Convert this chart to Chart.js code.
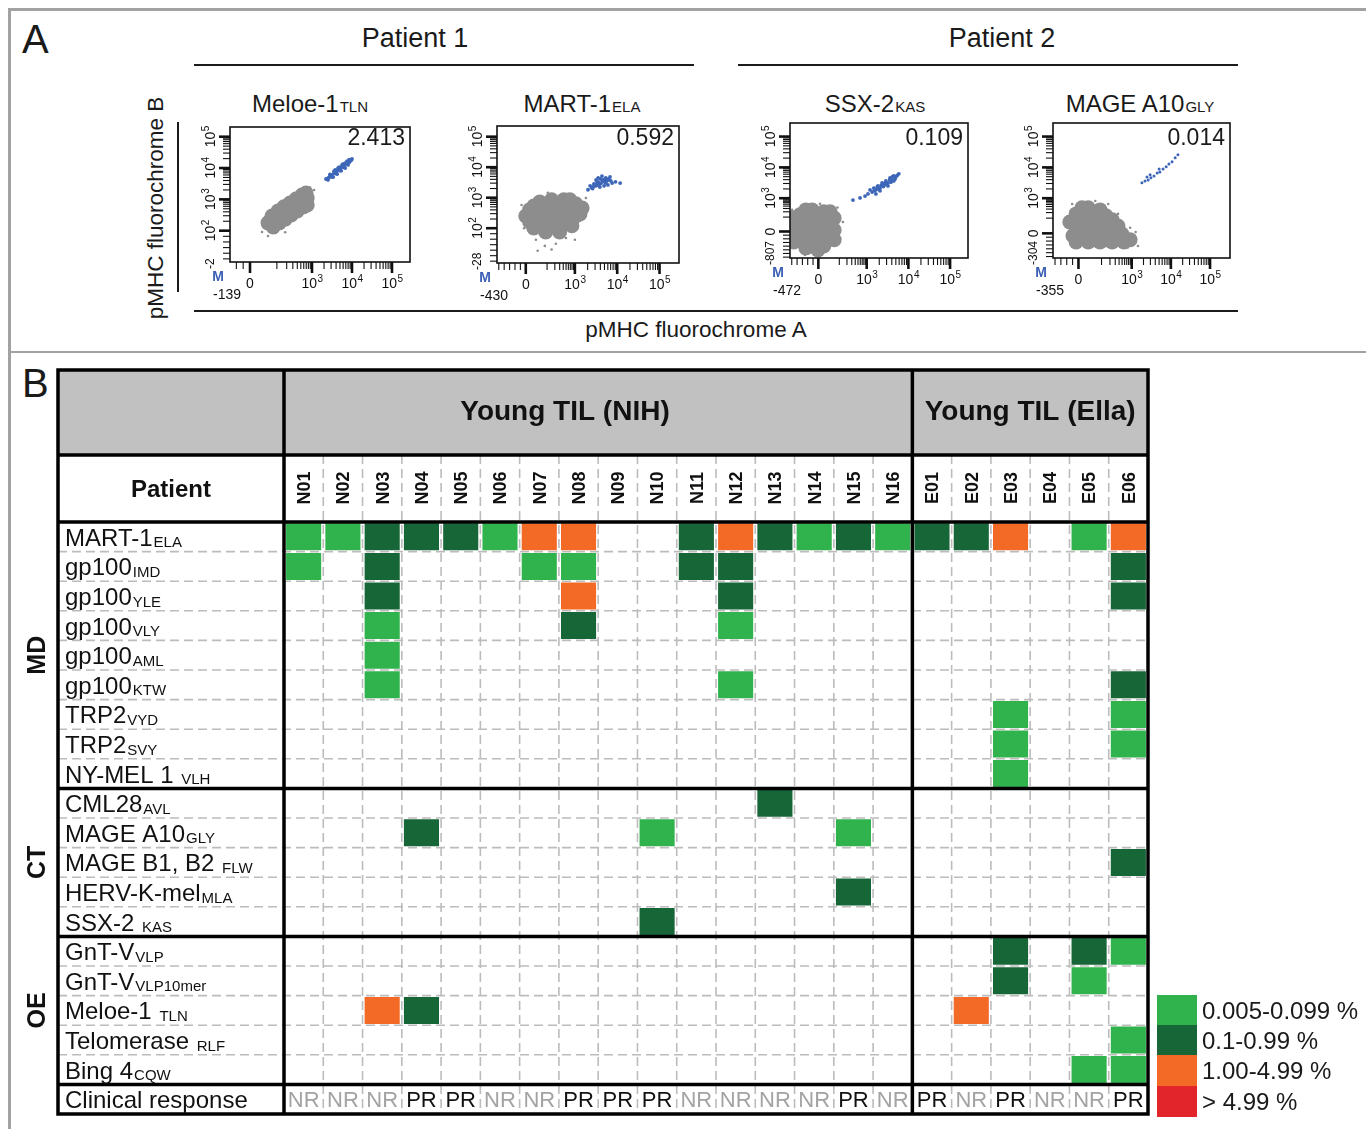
<!DOCTYPE html>
<html lang="en">
<head>
<meta charset="utf-8">
<title>Young TIL pMHC multimer screen</title>
<script src="https://cdn.jsdelivr.net/npm/chart.js@4.4.1/dist/chart.umd.min.js"></script>
<style>
  body { margin: 0; background: #fff; }
  #fig { position: relative; width: 1366px; height: 1129px; overflow: hidden; background: #fff;
         font-family: "Liberation Sans", Arial, Helvetica, sans-serif; color: #1a1a1a; }
  #fig div { position: absolute; white-space: nowrap; line-height: 1; }
  #fig canvas { position: absolute; }
  .rule { background: #1a1a1a; }
  .frame { background: #a2a2a2; }
  .letter { font-size: 40px; }
  .patient { font-size: 27px; transform: translateX(-50%); }
  .axtitle { font-size: 22.5px; }
  .ptitle { font-size: 24px; transform: translateX(-50%); }
  .ptitle span { font-size: 15px; margin-left: 1px; }
  .freq { font-size: 23px; transform: translateX(-100%); }
  .swatch { left: 1157px; width: 40px; }
  .lgtext { left: 1202px; font-size: 24px; }
</style>
</head>
<body>
<div id="fig">
  <div class="frame" style="left:8px;top:8px;width:1358px;height:3px"></div>
  <div class="frame" style="left:8px;top:8px;width:3px;height:1121px"></div>
  <div class="frame" style="left:8px;top:351px;width:1358px;height:2px"></div>
  <div class="letter" style="left:22px;top:19px">A</div>
  <div class="letter" style="left:22px;top:363px">B</div>
  <div class="patient" style="left:415px;top:25px">Patient 1</div>
  <div class="patient" style="left:1002px;top:25px">Patient 2</div>
  <div class="rule" style="left:194px;top:64px;width:500px;height:1.6px"></div>
  <div class="rule" style="left:738px;top:64px;width:500px;height:1.6px"></div>
  <div class="rule" style="left:194px;top:310px;width:1044px;height:1.6px"></div>
  <div class="rule" style="left:177px;top:122px;width:1.6px;height:170px"></div>
  <div class="axtitle" style="left:696px;top:319px;transform:translateX(-50%)">pMHC fluorochrome A</div>
  <div class="axtitle" style="left:156px;top:208px;transform:translate(-50%,-50%) rotate(-90deg)">pMHC fluorochrome B</div>
  <canvas id="heat" width="1160" height="769" style="left:0;top:360px"></canvas>
</div>
<script>
const FONT = '"Liberation Sans", Arial, Helvetica, sans-serif';

// ---------- panel A: dot plots (values in axis decades, 10^3 = 3) ----------
const plotAntigens = ["Meloe-1", "MART-1", "SSX-2", "MAGE A10"];
const plotEpitopes = ["TLN", "ELA", "KAS", "GLY"];
const plotFreqs = ["2.413", "0.592", "0.109", "0.014"];
const xTickText = ["0", "10^3", "10^4", "10^5"];
const yTickTextLog = ["10^2", "10^3", "10^4", "10^5"];
const yTickTextZero = ["0", "10^3", "10^4", "10^5"];
const xMinText = ["-139", "-430", "-472", "-355"];
const yMinText = ["-2", "-28", "-807", "-304"];

const meloeCore = [[1.90,2.25],[2.05,2.34],[2.20,2.47],[2.35,2.60],[2.50,2.72],[2.65,2.85],[2.80,2.98],[2.88,3.04],
  [2.00,2.47],[2.15,2.63],[2.30,2.76],[2.45,2.88],[2.60,3.01],[2.75,3.14],[2.85,3.20],
  [2.03,2.12],[2.18,2.25],[2.33,2.37],[2.48,2.50],[2.63,2.63],[2.78,2.76],[2.88,2.82]];
const meloeStray = [[1.75,1.96],[1.90,1.83],[2.10,1.93],[2.33,1.95],[1.83,2.41],[2.70,3.30],[3.05,3.30],[2.95,3.38],[1.80,2.20],[2.55,3.20]];
const meloeTet = [[3.35,3.65],[3.40,3.68],[3.45,3.75],[3.50,3.78],[3.55,3.84],[3.60,3.88],[3.65,3.94],[3.70,3.97],
  [3.75,4.03],[3.80,4.07],[3.85,4.13],[3.90,4.16],[3.95,4.22],[4.00,4.29],[3.53,3.71],[3.63,3.81],[3.73,3.91],
  [3.83,4.00],[3.68,4.03],[3.78,4.13],[3.88,4.22],[3.58,3.94],
  [3.43,3.70],[3.48,3.73],[3.58,3.85],[3.68,3.95],[3.78,4.05],[3.93,4.18],[3.98,4.25],[3.45,3.80],[3.55,3.90],
  [3.65,4.00],[3.75,4.10],[3.85,4.18],[3.93,4.27],[3.40,3.62],[3.50,3.72],[3.60,3.82],[3.70,3.92],[3.80,4.02],[3.90,4.10]];

const martCore = [[1.93,2.60],[1.93,2.21],[2.17,2.86],[2.17,2.47],[2.17,2.08],[2.45,2.93],[2.45,2.53],[2.45,2.14],
  [2.74,2.93],[2.74,2.53],[2.74,2.14],[3.02,2.80],[3.02,2.40],[3.17,2.66],[2.31,1.88],[2.64,1.88],[1.84,2.40],[2.93,2.08],
  [2.03,2.73],[2.03,2.34],[2.31,2.73],[2.31,2.34],[2.60,2.73],[2.60,2.34],[2.88,2.60],[2.88,2.27],[2.60,2.08],
  [2.03,2.01],[3.12,2.47],[2.31,2.08],[2.88,2.93]];
const martStray = [[2.08,1.62],[2.29,1.42],[2.55,1.49],[2.12,1.26],[2.79,1.68],[3.00,1.62],[1.74,2.76],[3.26,2.99],[2.36,3.16],[2.45,1.30],[1.80,2.00]];
const martTet = [[3.31,3.26],[3.40,3.32],[3.50,3.39],[3.59,3.45],[3.69,3.52],[3.78,3.58],[3.45,3.45],[3.55,3.52],
  [3.64,3.58],[3.73,3.65],[3.83,3.68],[3.59,3.35],[3.69,3.39],[3.50,3.58],[3.88,3.48],[4.07,3.48],[3.36,3.39],
  [3.78,3.42],[3.64,3.71],[3.55,3.65],[3.73,3.48],
  [3.45,3.38],[3.55,3.42],[3.62,3.48],[3.67,3.55],[3.75,3.55],[3.80,3.62],[3.60,3.62],[3.70,3.60],[3.42,3.30],
  [3.52,3.48],[3.85,3.55],[3.96,3.52]];

const ssxCore = [[1.40,2.46],[1.40,2.04],[1.40,1.61],[1.69,2.62],[1.69,2.23],[1.69,1.84],[1.69,1.45],[1.97,2.56],
  [1.97,2.17],[1.97,1.78],[1.97,1.45],[2.22,2.36],[2.22,1.97],[1.25,1.97],[2.22,1.65],[1.54,1.39],
  [1.54,2.23],[1.54,1.84],[1.83,2.43],[1.83,2.04],[1.83,1.65],[2.12,2.17],[2.12,1.78],[1.54,2.62],[1.25,2.36],
  [1.25,1.58],[1.83,1.32],[2.12,2.56]];
const ssxStray = [[2.43,2.23],[2.36,1.71],[1.52,1.16],[1.88,2.82],[1.21,2.62],[2.30,2.70],[1.75,1.20]];
const ssxTet = [[2.67,2.94],[2.84,3.01],[2.96,3.07],[3.03,3.14],[3.13,3.20],[3.22,3.27],[3.32,3.33],[3.42,3.43],
  [3.51,3.50],[3.61,3.59],[3.70,3.69],[3.77,3.79],[3.08,3.27],[3.17,3.33],[3.27,3.40],[3.37,3.50],[3.46,3.56],
  [3.56,3.66],[3.65,3.72],[3.32,3.24],[3.51,3.40],[3.22,3.14],[3.65,3.56],
  [3.18,3.24],[3.28,3.30],[3.40,3.38],[3.48,3.46],[3.58,3.52],[3.68,3.62],[3.73,3.74],[3.45,3.50],[3.55,3.60],
  [3.35,3.42],[3.25,3.36],[3.62,3.70],[3.42,3.46]];

const mageCore = [[1.58,2.49],[1.58,2.04],[1.58,1.58],[1.89,2.69],[1.89,2.30],[1.89,1.91],[1.89,1.58],[2.19,2.62],
  [2.19,2.23],[2.19,1.84],[2.19,1.58],[2.50,2.30],[2.50,1.91],[2.50,1.58],[2.75,1.84],[2.80,1.58],[1.50,1.78],
  [1.73,2.26],[1.73,1.81],[2.04,2.49],[2.04,2.07],[2.04,1.65],[2.34,2.43],[2.34,2.04],[2.34,1.65],[2.65,2.10],
  [2.65,1.71],[2.96,1.65],[1.73,2.69],[1.42,2.23]];
const mageStray = [[3.06,1.71],[3.16,1.45],[2.96,2.04],[2.65,2.49],[2.40,2.81],[1.48,2.81],[2.07,2.91],[2.90,1.40],[3.10,1.90]];
const mageTet = [[3.26,3.50],[3.34,3.56],[3.42,3.59],[3.49,3.66],[3.47,3.76],[3.57,3.72],[3.65,3.82],[3.72,3.85],
  [3.70,3.95],[3.80,3.95],[3.88,4.02],[3.95,4.11],[4.03,4.18],[4.11,4.31],[4.18,4.41],[3.39,3.69]];

const plotCores = [meloeCore, martCore, ssxCore, mageCore];
const plotStrays = [meloeStray, martStray, ssxStray, mageStray];
const plotTets = [meloeTet, martTet, ssxTet, mageTet];

// layout of the four dot plots
const plotBoxes = [[230,127,410,262],[497,126,679,263],[790,123,968,258],[1053,123,1230,258]];
const titleCenters = [310, 582, 875, 1140];
const plotAxes = [
  { xMin: 0.95, xMax: 5.45, xZero: 1.45, yMin: 1.00, yMax: 5.31, yZero: null },
  { xMin: 1.16, xMax: 5.46, xZero: 1.84, yMin: 0.86, yMax: 5.35, yZero: null },
  { xMin: 1.16, xMax: 5.43, xZero: 1.84, yMin: 1.06, yMax: 5.44, yZero: 1.92 },
  { xMin: 0.99, xMax: 5.51, xZero: 1.64, yMin: 1.06, yMax: 5.44, yZero: 1.86 }
];

// ---------- panel B: heat map ----------
const columns = ["N01","N02","N03","N04","N05","N06","N07","N08","N09","N10","N11","N12","N13","N14","N15","N16",
  "E01","E02","E03","E04","E05","E06"];
const cohorts = ["Young TIL (NIH)", "Young TIL (Ella)"];
const antigenNames = ["MART-1","gp100","gp100","gp100","gp100","gp100","TRP2","TRP2","NY-MEL 1 ",
  "CML28","MAGE A10","MAGE B1, B2 ","HERV-K-mel","SSX-2 ",
  "GnT-V","GnT-V","Meloe-1 ","Telomerase ","Bing 4"];
const epitopes = ["ELA","IMD","YLE","VLY","AML","KTW","VYD","SVY","VLH",
  "AVL","GLY","FLW","MLA","KAS",
  "VLP","VLP10mer","TLN","RLF","CQW"];
const groups = ["MD", "CT", "OE"];
const groupSizes = [9, 5, 5];
const responseLabel = "Clinical response";
const response = ["NR","NR","NR","PR","PR","NR","NR","PR","PR","PR","NR","NR","NR","NR","PR","NR",
  "PR","NR","PR","NR","NR","PR"];

// cells per frequency class: [epitope, patient]
const lowCells = [["ELA","N01"],["ELA","N02"],["ELA","N06"],["ELA","N14"],["ELA","N16"],["ELA","E05"],
  ["IMD","N01"],["IMD","N07"],["IMD","N08"],["VLY","N03"],["VLY","N12"],["AML","N03"],["KTW","N03"],["KTW","N12"],
  ["VYD","E03"],["VYD","E06"],["SVY","E03"],["SVY","E06"],["VLH","E03"],["GLY","N10"],["GLY","N15"],
  ["VLP","E06"],["VLP10mer","E05"],["RLF","E06"],["CQW","E05"],["CQW","E06"]];
const midCells = [["ELA","N03"],["ELA","N04"],["ELA","N05"],["ELA","N11"],["ELA","N13"],["ELA","N15"],["ELA","E01"],["ELA","E02"],
  ["IMD","N03"],["IMD","N11"],["IMD","N12"],["IMD","E06"],["YLE","N03"],["YLE","N12"],["YLE","E06"],["VLY","N08"],
  ["KTW","E06"],["AVL","N13"],["GLY","N04"],["FLW","E06"],["MLA","N15"],["KAS","N10"],
  ["VLP","E03"],["VLP","E05"],["VLP10mer","E03"],["TLN","N04"]];
const highCells = [["ELA","N07"],["ELA","N08"],["ELA","N12"],["ELA","E03"],["ELA","E06"],["YLE","N08"],["TLN","N03"],["TLN","E02"]];
const topCells = [];
const levelLabels = ["0.005-0.099 %", "0.1-0.99 %", "1.00-4.99 %", "> 4.99 %"];
const levelColors = ["#30b24c", "#166637", "#f26a25", "#e2242b"];

const fig = document.getElementById("fig");
function put(cls, text, style) {
  const d = document.createElement("div");
  d.className = cls;
  d.style.cssText = style;
  d.textContent = text;
  fig.appendChild(d);
  return d;
}

// "10^3" -> 10 with superscript 3, centred on x
function drawPow(ctx, text, x, y, size = 14) {
  const [base, exp] = text.split("^");
  ctx.font = size + "px " + FONT;
  const wb = ctx.measureText(base).width;
  let we = 0;
  if (exp) { ctx.font = "10px " + FONT; we = ctx.measureText(exp).width; }
  const start = x - (wb + we) / 2;
  ctx.textAlign = "left";
  ctx.font = size + "px " + FONT;
  ctx.fillText(base, start, y);
  if (exp) { ctx.font = "10px " + FONT; ctx.fillText(exp, start + wb + 0.5, y - 6.5); }
}

// tick marks of a biexponential axis (decoration only)
function zeroTicks(zero, lo) {
  const t = [{ v: zero, major: true }];
  const span = 3 - zero;
  for (let j = 1; zero - j * 0.11 * span > lo + 0.02; j++) t.push({ v: zero - j * 0.11 * span, major: false });
  for (let k = 1; k <= 9; k++) t.push({ v: zero + span * Math.log10(1 + 4 * k) / Math.log10(41), major: false });
  [3, 4].forEach(d => { t.push({ v: d, major: true }); for (let k = 2; k <= 9; k++) t.push({ v: d + Math.log10(k), major: false }); });
  t.push({ v: 5, major: true });
  return t;
}
function logTicks(lo) {
  const t = [];
  for (let j = 1; 2 - j * 0.18 > lo + 0.02; j++) t.push({ v: 2 - j * 0.18, major: false });
  [2, 3, 4].forEach(d => { t.push({ v: d, major: true }); for (let k = 2; k <= 9; k++) t.push({ v: d + Math.log10(k), major: false }); });
  t.push({ v: 5, major: true });
  return t;
}

function flowAxes(i) {
  const ax = plotAxes[i];
  const xTicks = zeroTicks(ax.xZero, ax.xMin);
  const yTicks = ax.yZero === null ? logTicks(ax.yMin) : zeroTicks(ax.yZero, ax.yMin);
  const xLabelAt = [ax.xZero, 3, 4, 5];
  const yLabelAt = ax.yZero === null ? [2, 3, 4, 5] : [ax.yZero, 3, 4, 5];
  const yText = ax.yZero === null ? yTickTextLog : yTickTextZero;
  return {
    id: "flowAxes" + i,
    afterDraw(chart) {
      const { ctx, chartArea: a, scales: { x, y } } = chart;
      ctx.save();
      ctx.strokeStyle = "#111";
      ctx.fillStyle = "#111";
      xTicks.forEach(t => {
        if (t.v < ax.xMin || t.v > ax.xMax) return;
        const px = x.getPixelForValue(t.v);
        ctx.lineWidth = t.major ? 2.6 : 1.1;
        ctx.beginPath(); ctx.moveTo(px, a.bottom); ctx.lineTo(px, a.bottom + (t.major ? 11 : 7)); ctx.stroke();
      });
      yTicks.forEach(t => {
        if (t.v < ax.yMin || t.v > ax.yMax) return;
        const py = y.getPixelForValue(t.v);
        ctx.lineWidth = t.major ? 2.6 : 1.1;
        ctx.beginPath(); ctx.moveTo(a.left, py); ctx.lineTo(a.left - (t.major ? 11 : 7), py); ctx.stroke();
      });
      ctx.lineWidth = 1.6;
      ctx.strokeRect(a.left, a.top, a.right - a.left, a.bottom - a.top);

      xLabelAt.forEach((v, k) => drawPow(ctx, xTickText[k], x.getPixelForValue(v), a.bottom + 26));
      drawPow(ctx, xMinText[i], a.left - 3, a.bottom + 37);
      yLabelAt.forEach((v, k) => {
        ctx.save();
        ctx.translate(a.left - 15, y.getPixelForValue(v));
        ctx.rotate(-Math.PI / 2);
        drawPow(ctx, yText[k], 0, 0);
        ctx.restore();
      });
      // lowest value of the y axis, read upwards from just below the box corner
      ctx.save();
      ctx.translate(a.left - 16, a.bottom + 7);
      ctx.rotate(-Math.PI / 2);
      ctx.font = "12px " + FONT;
      ctx.textAlign = "left";
      ctx.fillText(yMinText[i], 0, 0);
      ctx.restore();

      ctx.fillStyle = "#3b5fb5";
      ctx.font = "bold 14px " + FONT;
      ctx.textAlign = "center";
      ctx.fillText("M", a.left - 12, a.bottom + 19);
      ctx.restore();
    }
  };
}

const toXY = pts => pts.map(([x, y]) => ({ x, y }));

plotAntigens.forEach((name, i) => {
  const [L, T, R, B] = plotBoxes[i];
  const t = put("ptitle", name, `left:${titleCenters[i]}px;top:92px`);
  const s = document.createElement("span");
  s.textContent = plotEpitopes[i];
  t.appendChild(s);

  const cv = document.createElement("canvas");
  cv.width = R - L + 65;
  cv.height = B - T + 56;
  cv.style.left = (L - 50) + "px";
  cv.style.top = (T - 12) + "px";
  fig.appendChild(cv);
  put("freq", plotFreqs[i], `left:${R - 5}px;top:126px`);

  const ax = plotAxes[i];
  new Chart(cv, {
    type: "scatter",
    data: {
      datasets: [
        { data: toXY(plotCores[i]), pointRadius: 7.5, backgroundColor: "#8d8d8d", borderWidth: 0, clip: 0 },
        { data: toXY(plotStrays[i]), pointRadius: 1.3, backgroundColor: "#8d8d8d", borderWidth: 0, clip: 0 },
        { data: toXY(plotTets[i]), pointRadius: i === 3 ? 1.5 : 1.9, backgroundColor: "#3d66b8", borderWidth: 0, clip: 0 }
      ]
    },
    options: {
      responsive: false,
      animation: false,
      events: [],
      layout: { padding: { left: 50, top: 12, right: 15, bottom: 44 } },
      scales: {
        x: { type: "linear", display: false, min: ax.xMin, max: ax.xMax },
        y: { type: "linear", display: false, min: ax.yMin, max: ax.yMax }
      },
      plugins: { legend: { display: false }, tooltip: { enabled: false } }
    },
    plugins: [flowAxes(i)]
  });
});

// ---------- heat map ----------
const cellData = cells => cells.map(([ep, col]) => {
  const r = epitopes.indexOf(ep);
  return { x: col, y: [r, r + 1] };
});

const heatTable = {
  id: "heatTable",
  beforeDatasetsDraw(chart) {
    const { ctx, chartArea: a } = chart;
    ctx.save();
    ctx.fillStyle = "#c1c1c1";
    ctx.fillRect(a.left - 226, a.top - 152, a.right - a.left + 226, 85);
    ctx.restore();
  },
  afterDatasetsDraw(chart) {
    const { ctx, chartArea: a, scales: { x, y } } = chart;
    const tableLeft = a.left - 226, headTop = a.top - 152, patTop = a.top - 67;
    const colW = x.getPixelForValue(1) - x.getPixelForValue(0);
    const edge = i => x.getPixelForValue(i) - colW / 2;
    const nihCols = columns.filter(c => c[0] === "N").length;
    const thickRows = [];
    let acc = 0;
    groupSizes.forEach(n => { acc += n; thickRows.push(acc); });

    // dashed grid
    ctx.save();
    ctx.strokeStyle = "#bcbcbc";
    ctx.lineWidth = 1.6;
    ctx.setLineDash([9, 5]);
    ctx.beginPath();
    for (let i = 1; i < columns.length; i++) {
      if (i === nihCols) continue;
      ctx.moveTo(edge(i), patTop); ctx.lineTo(edge(i), a.bottom);
    }
    for (let r = 1; r <= epitopes.length; r++) {
      if (thickRows.includes(r)) continue;
      const py = y.getPixelForValue(r);
      ctx.moveTo(tableLeft, py); ctx.lineTo(a.right, py);
    }
    ctx.stroke();
    ctx.restore();

    // heavy rules
    ctx.save();
    ctx.strokeStyle = "#000";
    ctx.lineWidth = 3.5;
    ctx.beginPath();
    [patTop, a.top, ...thickRows.map(r => y.getPixelForValue(r))].forEach(py => { ctx.moveTo(tableLeft, py); ctx.lineTo(a.right, py); });
    [a.left, edge(nihCols)].forEach(px => { ctx.moveTo(px, headTop); ctx.lineTo(px, a.bottom); });
    ctx.stroke();
    ctx.strokeRect(tableLeft, headTop, a.right - tableLeft, a.bottom - headTop);
    ctx.restore();

    // texts
    ctx.save();
    ctx.fillStyle = "#111";
    ctx.textAlign = "center";
    ctx.font = "bold 28px " + FONT;
    ctx.fillText(cohorts[0], a.left + 281, headTop + 50);
    ctx.fillText(cohorts[1], (edge(nihCols) + a.right) / 2, headTop + 50);
    ctx.font = "bold 24px " + FONT;
    ctx.fillText("Patient", (tableLeft + a.left) / 2, patTop + 42);
    ctx.font = "bold 18px " + FONT;
    columns.forEach((c, i) => {
      ctx.save();
      ctx.translate(x.getPixelForValue(i), patTop + 33);
      ctx.rotate(-Math.PI / 2);
      ctx.fillText(c, 0, 6.4);
      ctx.restore();
    });

    // group labels
    ctx.font = "bold 25px " + FONT;
    let start = 0;
    groups.forEach((g, k) => {
      const cy = (y.getPixelForValue(start) + y.getPixelForValue(start + groupSizes[k])) / 2;
      ctx.save();
      ctx.translate(tableLeft - 22, cy);
      ctx.rotate(-Math.PI / 2);
      ctx.fillText(g, 0, 9);
      ctx.restore();
      start += groupSizes[k];
    });

    // row labels
    ctx.textAlign = "left";
    epitopes.forEach((ep, r) => {
      const cy = (y.getPixelForValue(r) + y.getPixelForValue(r + 1)) / 2;
      ctx.font = "24px " + FONT;
      ctx.fillText(antigenNames[r], tableLeft + 7, cy + 9);
      const w = ctx.measureText(antigenNames[r]).width;
      ctx.font = "15px " + FONT;
      ctx.fillText(ep, tableLeft + 8 + w, cy + 10.5);
    });
    const rr = epitopes.length;
    const cyResp = (y.getPixelForValue(rr) + y.getPixelForValue(rr + 1)) / 2;
    ctx.font = "24px " + FONT;
    ctx.fillText(responseLabel, tableLeft + 7, cyResp + 9);

    ctx.textAlign = "center";
    ctx.font = "22px " + FONT;
    response.forEach((v, i) => {
      ctx.fillStyle = v === "PR" ? "#111" : "#a3a3a3";
      ctx.fillText(v, x.getPixelForValue(i), cyResp + 8);
    });
    ctx.restore();
  }
};

const cellStyle = { grouped: false, categoryPercentage: 1, barPercentage: 0.96, borderWidth: 1.3,
  borderColor: "#ffffff", borderSkipped: false };

new Chart(document.getElementById("heat"), {
  type: "bar",
  data: {
    labels: columns,
    datasets: [lowCells, midCells, highCells, topCells].map((cells, k) => Object.assign({
      label: levelLabels[k], data: cellData(cells), backgroundColor: levelColors[k]
    }, cellStyle))
  },
  options: {
    responsive: false,
    animation: false,
    events: [],
    layout: { padding: { left: 284, top: 162, right: 12, bottom: 15 } },
    scales: {
      x: { display: false },
      y: { type: "linear", display: false, min: 0, max: epitopes.length + 1, reverse: true }
    },
    plugins: { legend: { display: false }, tooltip: { enabled: false } }
  },
  plugins: [heatTable]
});

// legend
const swatchTops = [995, 1025, 1055, 1086];
levelLabels.forEach((lab, k) => {
  put("swatch", "", `top:${swatchTops[k]}px;height:31px;background:${levelColors[k]}`);
  put("lgtext", lab, `top:${swatchTops[k] + 4}px`);
});
</script>
</body>
</html>
